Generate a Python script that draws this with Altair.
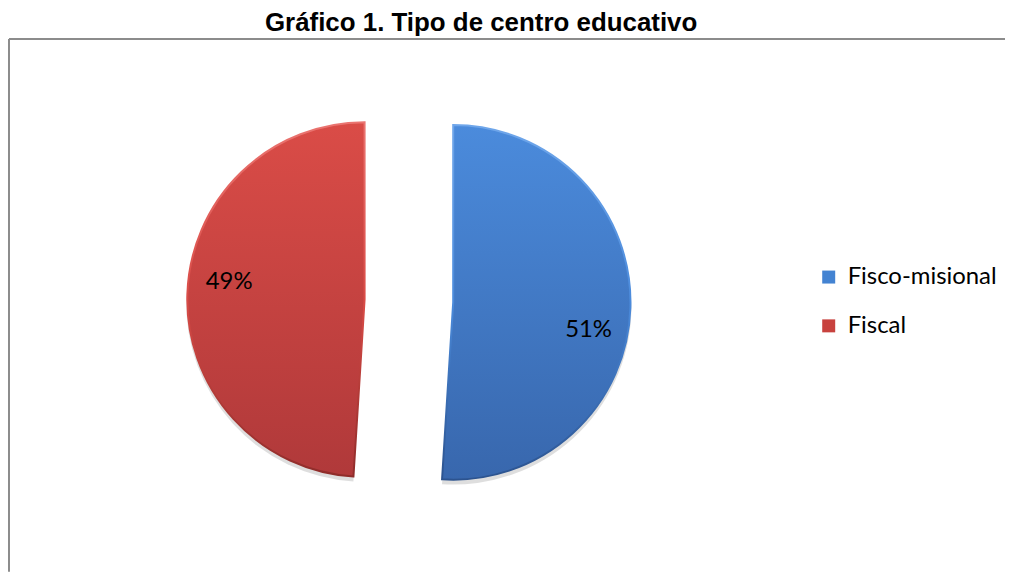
import math
import altair as alt
import pandas as pd

# ---- data ----
categories = ["Fisco-misional", "Fiscal"]
values = [51, 49]

# ---- style ----
colors_solid = ["#4383d2", "#c8423e"]
grad_top = ["#4b8bdc", "#da4c47"]
grad_bottom = ["#3867ad", "#b0393a"]
rim_top = ["#6fa6ea", "#ea7470"]
rim_bottom = ["#2c538f", "#8f2c2a"]
label_dx = [1, -1]
label_dy = [24, -13]

W, H = 1000, 535
CX, CY = 401.5, 263
R = 178
EXPLODE = 44.5
LABEL_R = 135
TAU = 2 * math.pi

df = pd.DataFrame({"category": categories, "value": values,
                   "order": list(range(len(categories)))})

base = (
    alt.Chart(df)
    .transform_joinaggregate(total="sum(value)")
    .transform_window(cum="sum(value)", sort=[alt.SortField("order")], frame=[None, 0])
    .transform_calculate(end="datum.cum / datum.total")
    .transform_calculate(start="(datum.cum - datum.value) / datum.total")
    .transform_calculate(mid="(datum.start + datum.end) / 2")
    .transform_calculate(cx=f"{CX} + {EXPLODE} * sin(datum.mid * {TAU})")
    .transform_calculate(cy=f"{CY} - {EXPLODE} * cos(datum.mid * {TAU})")
    .transform_calculate(sy="datum.cy + 4")
    .transform_calculate(pct="format(datum.value / datum.total, '.0%')")
)

theta_scale = alt.Scale(domain=[0, 1], range=[0, TAU])
xenc = alt.X("cx:Q", scale=None, axis=None)
yenc = alt.Y("cy:Q", scale=None, axis=None)
tenc = alt.Theta("start:Q", stack=None, scale=theta_scale)
t2enc = alt.Theta2("end:Q")

shadow = base.mark_arc(radius=R + 1, color="#000000", opacity=0.13).encode(
    x=xenc, y=alt.Y("sy:Q", scale=None, axis=None), theta=tenc, theta2=t2enc
)

legend_layer = base.mark_arc(radius=R).encode(
    x=xenc, y=yenc, theta=tenc, theta2=t2enc,
    color=alt.Color(
        "category:N",
        scale=alt.Scale(domain=categories, range=colors_solid),
        legend=alt.Legend(
            title=None, orient="none", legendX=811, legendY=227,
            symbolType="square", symbolSize=170, symbolStrokeWidth=0,
            labelFont="Lato", labelFontSize=24, labelColor="#000000",
            rowPadding=25, labelOffset=7,
        ),
    ),
)

layers = [shadow, legend_layer]
for i, cat in enumerate(categories):
    fill = alt.LinearGradient(
        gradient="linear",
        stops=[alt.GradientStop(color=grad_top[i], offset=0),
               alt.GradientStop(color=grad_bottom[i], offset=1)],
        x1=0, x2=0, y1=0, y2=1,
    )
    stroke = alt.LinearGradient(
        gradient="linear",
        stops=[alt.GradientStop(color=rim_top[i], offset=0),
               alt.GradientStop(color=grad_top[i], offset=0.5),
               alt.GradientStop(color=rim_bottom[i], offset=1)],
        x1=0, x2=0, y1=0, y2=1,
    )
    layers.append(
        base.transform_filter(alt.datum.category == cat)
        .mark_arc(radius=R, color=fill, stroke=stroke, strokeWidth=2)
        .encode(x=xenc, y=yenc, theta=tenc, theta2=t2enc)
    )
    layers.append(
        base.transform_filter(alt.datum.category == cat)
        .mark_text(radius=LABEL_R, font="Lato", fontSize=24, color="#000000",
                   dx=label_dx[i], dy=label_dy[i])
        .encode(x=xenc, y=yenc,
                theta=alt.Theta("mid:Q", stack=None, scale=theta_scale),
                text="pct:N")
    )

frame_df = pd.DataFrame({"k": [0]})
left_edge = alt.Chart(frame_df).mark_rule(color="#8c8c8c", strokeWidth=2).encode(
    x=alt.value(0), y=alt.value(0), y2=alt.value(H)
)
top_edge = alt.Chart(frame_df).mark_rule(color="#8c8c8c", strokeWidth=2).encode(
    x=alt.value(0), x2=alt.value(W), y=alt.value(0)
)
layers += [left_edge, top_edge]

chart = (
    alt.layer(*layers)
    .properties(
        width=W, height=H,
        autosize="none",
        padding={"left": 1, "top": 30, "right": 0, "bottom": 0},
        title=alt.Title(
            "Gráfico 1. Tipo de centro educativo",
            font="Liberation Sans", fontSize=26, fontWeight="bold",
            color="#000000", anchor="start", dx=258, offset=-19,
            baseline="alphabetic",
        ),
    )
    .configure_view(stroke=None)
)

chart.save("out.html", embed_options={"renderer": "svg", "actions": False})
